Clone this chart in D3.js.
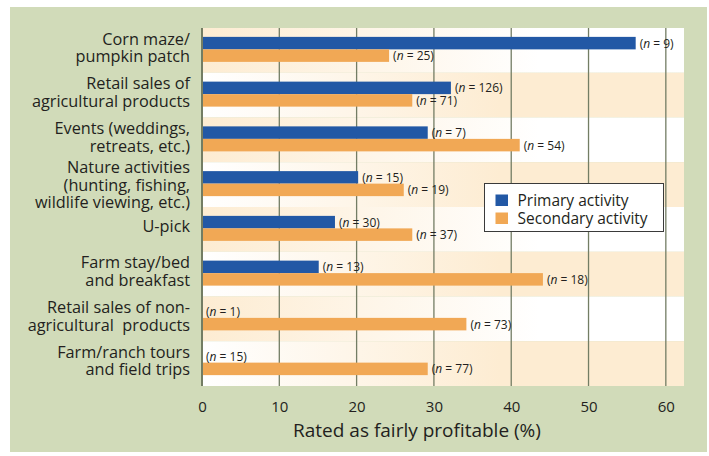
<!DOCTYPE html>
<html>
<head>
<meta charset="utf-8">
<script src="https://cdn.jsdelivr.net/npm/d3@7/dist/d3.min.js"></script>
<style>
	body { margin: 0; background: #fff; }
	text { font-family: "Open Sans", "Noto Sans", sans-serif; fill: #231f20; }
</style>
</head>
<body>
<div id="chart"></div>
<script>
	// categories (each entry = label lines)
	var categories = [
		["Corn maze/", "pumpkin patch"],
		["Retail sales of", "agricultural products"],
		["Events (weddings,", "retreats, etc.)"],
		["Nature activities", "(hunting, fishing,", "wildlife viewing, etc.)"],
		["U-pick"],
		["Farm stay/bed", "and breakfast"],
		["Retail sales of non-", "agricultural  products"],
		["Farm/ranch tours", "and field trips"]
	];
	var primaryValues = [56.1, 32.2, 29.2, 20.2, 17.2, 15.1, 0, 0];
	var secondaryValues = [24.2, 27.2, 41.1, 26.1, 27.2, 44.1, 34.2, 29.2];
	var primaryN = [9, 126, 7, 15, 30, 13, 1, 15];
	var secondaryN = [25, 71, 54, 19, 37, 18, 73, 77];
	var xTicks = [0, 10, 20, 30, 40, 50, 60];
	var seriesNames = ["Primary activity", "Secondary activity"];

	var W = 709, H = 456;
	var colors = { primary: "#2258a5", secondary: "#f1a855", cream: "#fdecd2", green: "#d1dbb9", grid: "#737d64" };
	var margin = { top: 28, left: 202, right: 25, bottom: 70 };
	var plotW = W - margin.left - margin.right;
	var plotH = H - margin.top - margin.bottom;

	var svg = d3.select("#chart").append("svg")
		.attr("width", W).attr("height", H);

	// outer green panel
	svg.append("rect").attr("x", 10).attr("y", 7).attr("width", 697).attr("height", 445)
		.attr("fill", colors.green);

	var defs = svg.append("defs");
	var gA = defs.append("linearGradient").attr("id", "bandA");
	gA.append("stop").attr("offset", "0%").attr("stop-color", colors.cream);
	gA.append("stop").attr("offset", "70%").attr("stop-color", "#ffffff");
	gA.append("stop").attr("offset", "100%").attr("stop-color", "#ffffff");
	var gB = defs.append("linearGradient").attr("id", "bandB");
	gB.append("stop").attr("offset", "0%").attr("stop-color", "#ffffff");
	gB.append("stop").attr("offset", "62%").attr("stop-color", colors.cream);
	gB.append("stop").attr("offset", "100%").attr("stop-color", colors.cream);

	var g = svg.append("g").attr("transform", "translate(" + margin.left + "," + margin.top + ")");

	var x = d3.scaleLinear().domain([0, 62.35]).range([0, plotW]);
	var y = d3.scaleBand().domain(d3.range(categories.length)).range([0, plotH]).padding(0);
	var barH = 12.5;

	// band stripes
	g.selectAll(".band").data(categories).enter().append("rect")
		.attr("x", 0).attr("y", function(d, i) { return y(i); })
		.attr("width", plotW).attr("height", y.bandwidth())
		.attr("fill", function(d, i) { return i % 2 == 0 ? "url(#bandA)" : "url(#bandB)"; });

	// gridlines
	g.selectAll(".grid").data(xTicks).enter().append("line")
		.attr("x1", function(d) { return x(d); }).attr("x2", function(d) { return x(d); })
		.attr("y1", 0).attr("y2", plotH)
		.attr("stroke", colors.grid).attr("stroke-width", function(d) { return d == 0 ? 2 : 1.3; });

	// bars
	function center(i) { return y(i) + y.bandwidth() / 2 - 1; }
	g.selectAll(".bar-p").data(primaryValues).enter().append("rect")
		.attr("x", 1).attr("y", function(d, i) { return center(i) - barH; })
		.attr("width", function(d) { return d > 0 ? x(d) - 1 : 0; }).attr("height", barH)
		.attr("fill", colors.primary);
	g.selectAll(".bar-s").data(secondaryValues).enter().append("rect")
		.attr("x", 1).attr("y", function(d, i) { return center(i); })
		.attr("width", function(d) { return x(d) - 1; }).attr("height", barH)
		.attr("fill", colors.secondary);

	// n labels
	function nLabel(sel) {
		sel.append("tspan").text("(");
		sel.append("tspan").attr("font-style", "italic").text("n");
		sel.append("tspan").text(function(d) { return " = " + d.n + ")"; });
	}
	var pl = g.selectAll(".np").data(primaryValues.map(function(v, i) { return { v: v, n: primaryN[i], i: i }; }))
		.enter().append("text")
		.attr("x", function(d) { return x(d.v) + 4; })
		.attr("y", function(d) { return center(d.i) - barH / 2 + 4.5; })
		.attr("font-size", "12px").attr("fill", "#333");
	nLabel(pl);
	var sl = g.selectAll(".ns").data(secondaryValues.map(function(v, i) { return { v: v, n: secondaryN[i], i: i }; }))
		.enter().append("text")
		.attr("x", function(d) { return x(d.v) + 4; })
		.attr("y", function(d) { return center(d.i) + barH / 2 + 4.5; })
		.attr("font-size", "12px").attr("fill", "#333");
	nLabel(sl);

	// category labels
	var lineH = 17.5;
	var cl = g.selectAll(".cat").data(categories).enter().append("text")
		.attr("text-anchor", "end").attr("font-size", "16.3px")
		.attr("transform", function(d, i) {
			var off = d.length == 3 ? 6 : 3;
			return "translate(-12," + (y(i) + y.bandwidth() / 2 + off - (d.length - 1) * lineH / 2) + ")";
		});
	cl.selectAll("tspan").data(function(d) { return d; }).enter().append("tspan")
		.attr("x", 0).attr("y", function(d, j) { return j * lineH; })
		.attr("xml:space", "preserve").style("white-space", "pre")
		.text(function(d) { return d; });

	// x axis
	var xAxis = d3.axisBottom(x).tickValues(xTicks).tickSize(0).tickPadding(15);
	var ax = g.append("g").attr("transform", "translate(0," + plotH + ")").call(xAxis);
	ax.select(".domain").remove();
	ax.selectAll("text").attr("font-size", "15px").style("font-family", "\"Open Sans\", sans-serif").attr("fill", "#231f20");

	svg.append("text").attr("x", 417).attr("y", 437).attr("text-anchor", "middle")
		.attr("font-size", "19px").text("Rated as fairly profitable (%)");

	// legend
	var lg = svg.append("g").attr("transform", "translate(484.5,183.5)");
	lg.append("rect").attr("width", 179).attr("height", 48)
		.attr("fill", "#fff").attr("stroke", "#3a3a3a").attr("stroke-width", 1);
	var items = lg.selectAll(".li").data(seriesNames).enter().append("g")
		.attr("transform", function(d, i) { return "translate(11," + (11 + i * 18) + ")"; });
	items.append("rect").attr("width", 12.5).attr("height", 11.5)
		.attr("fill", function(d, i) { return i == 0 ? colors.primary : colors.secondary; });
	items.append("text").attr("x", 22).attr("y", 11).attr("font-size", "15.5px").text(function(d) { return d; });
</script>
</body>
</html>
